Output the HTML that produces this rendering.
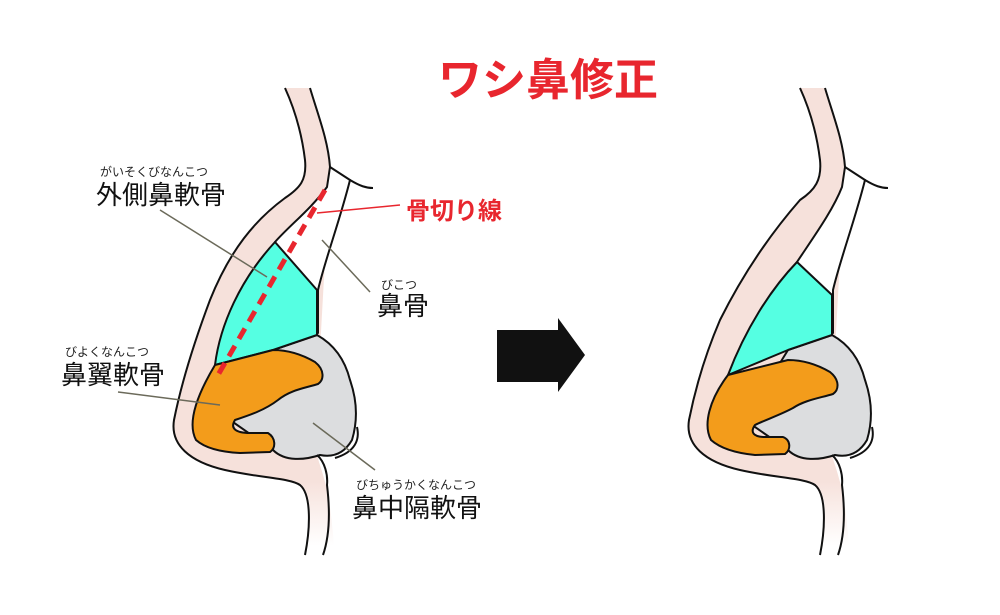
<!DOCTYPE html>
<html><head><meta charset="utf-8"><style>
body{margin:0;background:#fff;width:1000px;height:615px;overflow:hidden}
svg{display:block}
text{font-family:"Liberation Sans","Noto Sans CJK JP",sans-serif}
</style></head><body>
<svg width="1000" height="615" viewBox="0 0 1000 615">
<defs>
<linearGradient id="fade" x1="0" y1="0" x2="0" y2="1">
<stop offset="0.83" stop-color="#f6e1db"/><stop offset="0.97" stop-color="#fff"/>
</linearGradient>
</defs>
<!-- LEFT -->
<g stroke="#111" stroke-width="2" stroke-linejoin="round">
<path d="M285,88 C295,110 302,135 305,160 C307,180 300,188 285,198 C255,220 230,250 210,300 C195,340 182,380 174,420 C170,445 190,462 225,470 C260,478 290,478 300,485 C315,495 310,530 305,560 L335,560 C333,530 330,500 325,482 C322,470 318,460 317,455 L320,350 L330,170 C330,140 318,115 310,88 Z" fill="url(#fade)" stroke="none"/>
<path d="M285,88 C295,110 302,135 305,160 C307,180 300,188 285,198 C255,220 230,250 210,300 C195,340 182,380 174,420 C170,445 190,462 225,470 C260,478 290,478 300,485 C312,495 310,530 305,555" fill="none"/>
<path d="M310,88 C318,115 328,140 330,167" fill="none"/>
<path d="M330,167 L350,180 C340,220 325,260 318,290 L318,333 L275,242 C290,225 310,210 327,187 Z" fill="#fff"/>
<path d="M350,180 C360,186 366,188 373,188" fill="none"/>
<path d="M317,335 C335,345 345,360 350,380 C357,400 358,420 352,440 C345,452 335,458 320,455 C305,460 285,462 273,450 L230,420 L273,350 Z" fill="#dcdddf"/>
<path d="M275,242 L317,290 L317,335 L273,350 L215,365 C220,325 240,280 275,242 Z" fill="#55ffe2"/>
<path d="M215,365 L273,350 C290,350 303,355 315,362 C325,370 324,380 318,384 C305,388 290,390 278,400 C265,410 250,415 235,420 C230,428 235,433 250,433 L268,433 C276,438 276,448 270,452 L240,453 C220,452 205,448 196,440 C188,425 194,400 215,365 Z" fill="#f39c1b"/>
<path d="M357,427 C360,440 355,452 335,458" fill="none"/>
<path d="M317,455 C325,462 328,475 327,485 C330,510 330,535 323,555" fill="none"/>
</g>
<line x1="325" y1="190" x2="218" y2="375" stroke="#e8262e" stroke-width="5" stroke-dasharray="12,8"/>
<line x1="317" y1="213" x2="400" y2="205" stroke="#e8262e" stroke-width="1.5"/>
<g stroke="#6b6a5a" stroke-width="1.5">
<line x1="160" y1="210" x2="267" y2="277"/>
<line x1="322" y1="240" x2="370" y2="292"/>
<line x1="118" y1="392" x2="220" y2="405"/>
<line x1="313" y1="423" x2="375" y2="470"/>
</g>
<!-- RIGHT -->
<g transform="translate(515,0)" stroke="#111" stroke-width="2" stroke-linejoin="round">
<path d="M285,88 C295,110 302,135 305,160 C307,180 300,190 285,200 C250,240 225,280 205,320 C190,355 180,390 174,420 C170,445 190,462 225,470 C260,478 290,478 300,485 C315,495 310,530 305,560 L335,560 C333,530 330,500 325,482 C322,470 318,460 317,455 L320,350 L330,170 C330,140 318,115 310,88 Z" fill="url(#fade)" stroke="none"/>
<path d="M285,88 C295,110 302,135 305,160 C307,180 300,190 285,200 C250,240 225,280 205,320 C190,355 180,390 174,420 C170,445 190,462 225,470 C260,478 290,478 300,485 C312,495 310,530 305,555" fill="none"/>
<path d="M310,88 C318,115 328,140 330,167" fill="none"/>
<path d="M330,167 L350,180 C340,220 325,260 318,290 L318,333 L282,262 C300,235 318,210 327,187 Z" fill="#fff"/>
<path d="M350,180 C360,186 366,188 373,188" fill="none"/>
<path d="M317,335 C335,345 345,360 350,380 C357,400 358,420 352,440 C345,452 335,458 320,455 C305,460 285,462 273,450 L230,420 L273,350 Z" fill="#dcdddf"/>
<path d="M282,262 L317,295 L317,335 L273,350 L213,375 C230,330 255,290 282,262 Z" fill="#55ffe2"/>
<path d="M213,375 L273,360 C290,360 303,365 315,372 C325,380 324,390 318,394 C305,398 290,400 278,408 C265,415 250,420 240,425 C235,432 238,437 250,437 L268,437 C276,440 276,450 270,454 L240,455 C220,453 205,448 196,440 C188,425 194,400 213,375 Z" fill="#f39c1b"/>
<path d="M357,427 C360,440 355,452 335,458" fill="none"/>
<path d="M317,455 C325,462 328,475 327,485 C330,510 330,535 323,555" fill="none"/>
</g>
<!-- arrow -->
<polygon points="497,330 558,330 558,318 585,355 558,392 558,382 497,382" fill="#111"/>
<!-- text -->
<text x="548" y="95" font-size="44" font-weight="bold" fill="#e8262e" text-anchor="middle">ワシ鼻修正</text>
<text x="100" y="176" font-size="12" fill="#222">がいそくびなんこつ</text>
<text x="96" y="204" font-size="26" fill="#111">外側鼻軟骨</text>
<text x="406" y="219" font-size="24" font-weight="bold" fill="#e8262e">骨切り線</text>
<text x="381" y="289" font-size="12" fill="#222">びこつ</text>
<text x="377" y="315" font-size="26" fill="#111">鼻骨</text>
<text x="65" y="356" font-size="12" fill="#222">びよくなんこつ</text>
<text x="61" y="384" font-size="26" fill="#111">鼻翼軟骨</text>
<text x="356" y="489" font-size="12" fill="#222">びちゅうかくなんこつ</text>
<text x="352" y="517" font-size="26" fill="#111">鼻中隔軟骨</text>
</svg>
</body></html>
